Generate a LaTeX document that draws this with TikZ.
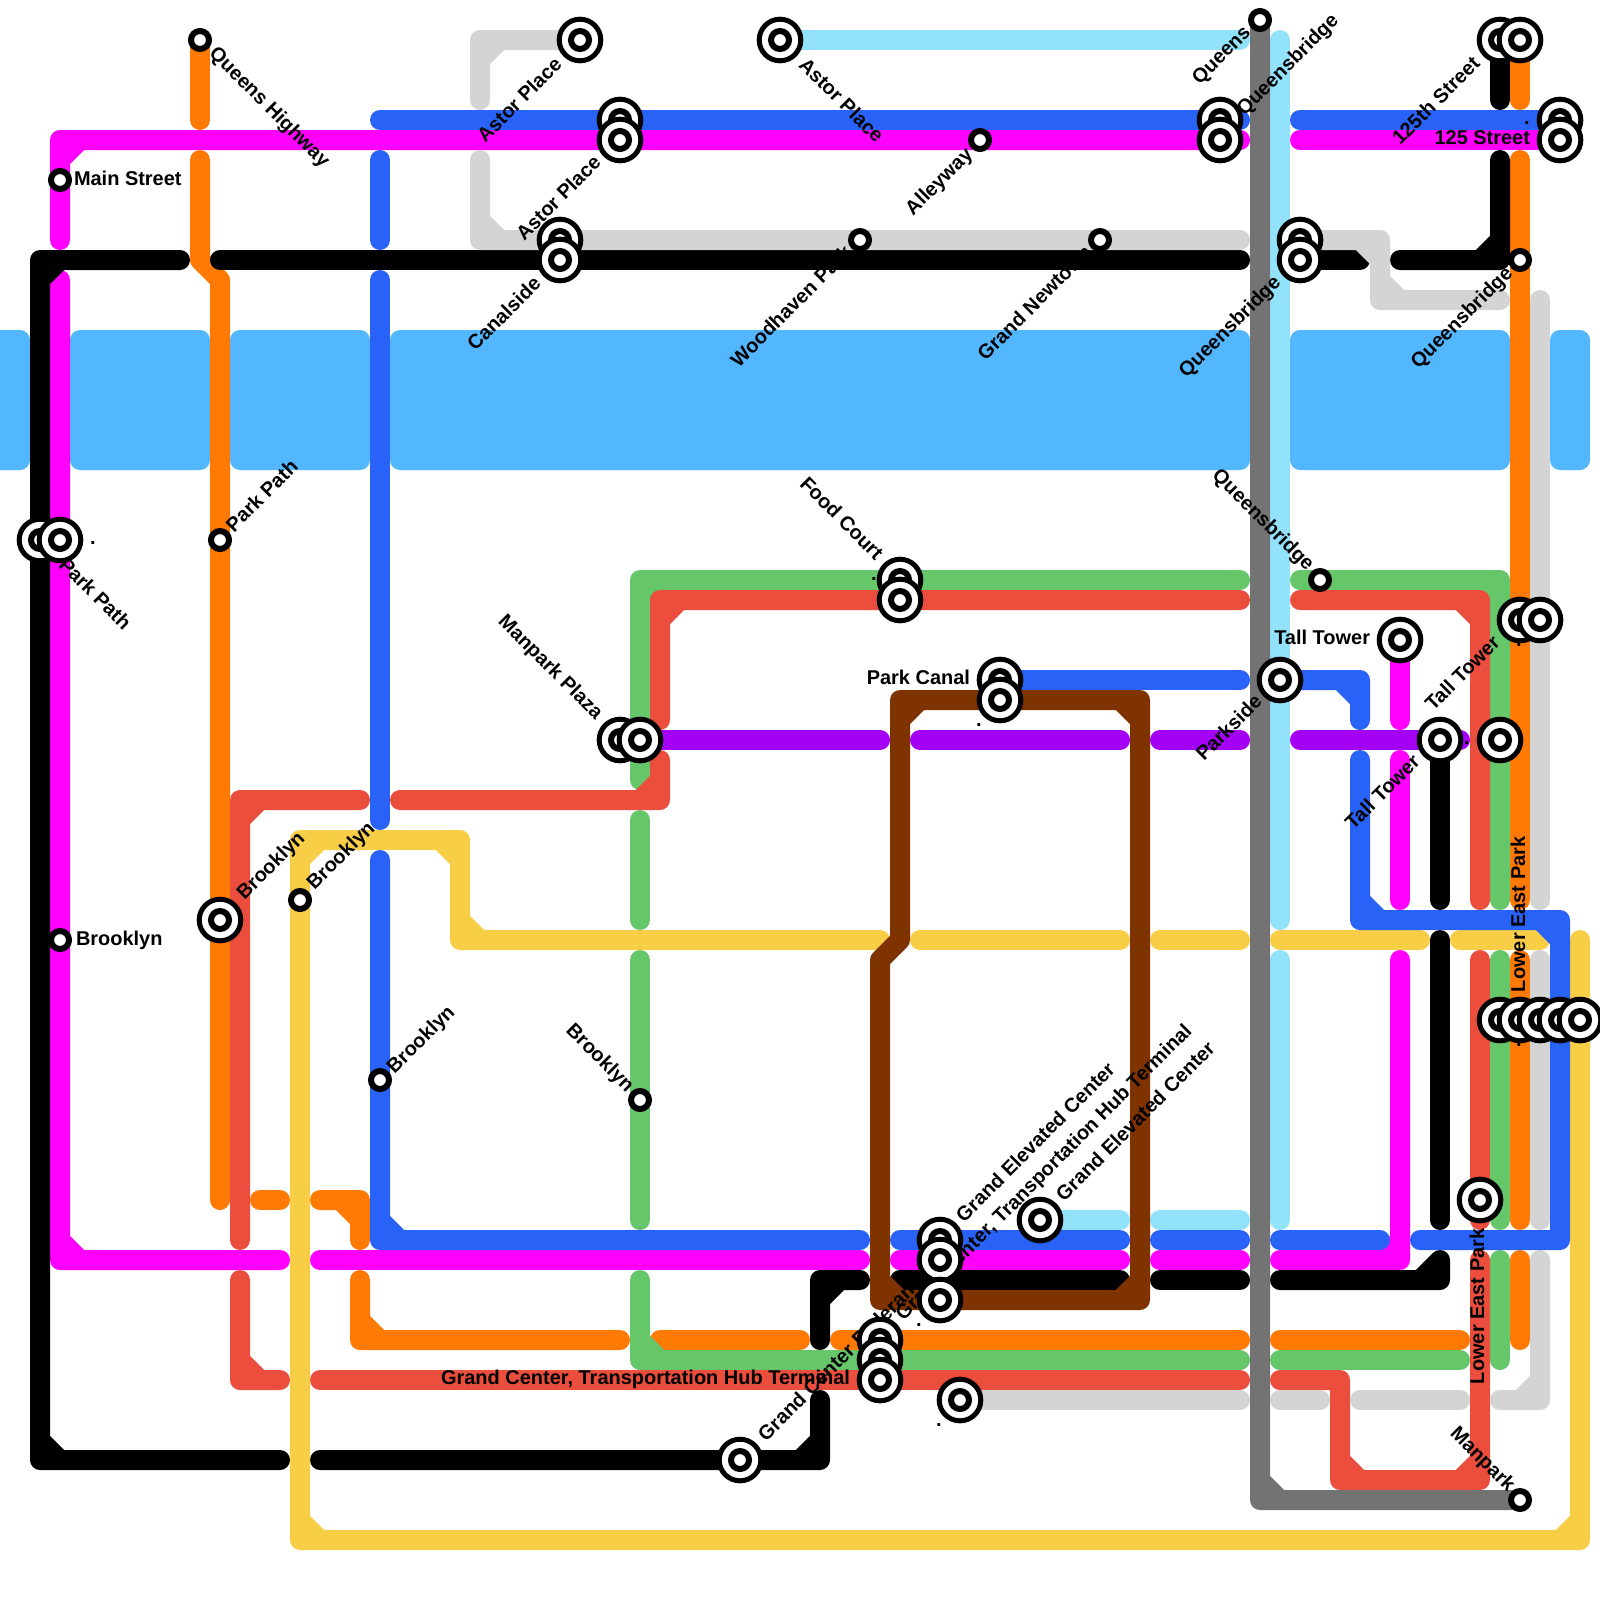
\documentclass[tikz,border=0pt]{standalone}
\usepackage{fontspec}
\setmainfont{Liberation Sans}
\usepackage{xcolor}
\definecolor{cRiver}{HTML}{52B7FF}
\definecolor{cSky}{HTML}{93E2FC}
\definecolor{cMag}{HTML}{FF00FF}
\definecolor{cOrg}{HTML}{FF7A05}
\definecolor{cGrn}{HTML}{66C66A}
\definecolor{cRed}{HTML}{EC4E3E}
\definecolor{cPur}{HTML}{A300F5}
\definecolor{cDark}{HTML}{737373}
\definecolor{cGry}{HTML}{D4D4D4}
\definecolor{cYel}{HTML}{F8CE47}
\definecolor{cBlu}{HTML}{2962F6}
\definecolor{cBrn}{HTML}{7F3300}
\usetikzlibrary{positioning}

\begin{document}
\begin{tikzpicture}[
    x=5mm, y=-5mm,
    ln/.style={line width=5mm, line cap=round, line join=round},
    sky/.style={ln, draw=cSky},
    mag/.style={ln, draw=cMag},
    org/.style={ln, draw=cOrg},
    grn/.style={ln, draw=cGrn},
    red/.style={ln, draw=cRed},
    pur/.style={ln, draw=cPur},
    blk/.style={ln, draw=black},
    drk/.style={ln, draw=cDark},
    gry/.style={ln, draw=cGry},
    yel/.style={ln, draw=cYel},
    blu/.style={ln, draw=cBlu},
    brn/.style={ln, draw=cBrn},
    river/.style={fill=cRiver, rounded corners=2.5mm},
    stop/.style={circle, draw=black, fill=white, line width=1.5mm,
                 minimum size=4.5mm, inner sep=0pt, outer sep=0pt},
    hub/.style={circle, draw=black, fill=white, line width=1.25mm,
                minimum size=10.4mm, inner sep=0pt, outer sep=0pt,
                path picture={\draw[black, line width=1.5mm]
                  (path picture bounding box.center) circle (2.25mm);}},
    lbl/.style={inner sep=0pt, outer sep=0pt, text=black,
                font=\bfseries\fontsize{14.2}{14.2}\selectfont},
    up/.style={lbl, rotate=45},
    dn/.style={lbl, rotate=-45},
    vt/.style={lbl, rotate=90, anchor=west}
]
  \clip (0,0) rectangle (80,80);

  \fill[river] (-1,16.5) rectangle (1.5,23.5);
  \fill[river] (3.5,16.5) rectangle (10.5,23.5);
  \fill[river] (11.5,16.5) rectangle (18.5,23.5);
  \fill[river] (19.5,16.5) rectangle (62.5,23.5);
  \fill[river] (64.5,16.5) rectangle (75.5,23.5);
  \fill[river] (77.5,16.5) rectangle (79.5,23.5);

  \draw[sky] (39,2) -- (62,2);
  \draw[sky] (64,2) -- (64,46);
  \draw[sky] (64,48) -- (64,61);
  \draw[sky] (52,61) -- (56,61);
  \draw[sky] (58,61) -- (62,61);

  \draw[mag] (3,12) -- (3,7) -- (62,7) (3,8) -- (4,7);
  \draw[mag] (65,7) -- (78,7);
  \draw[mag] (3,14) -- (3,63) -- (14,63) (3,62) -- (4,63);
  \draw[mag] (16,63) -- (43,63);
  \draw[mag] (45,63) -- (56,63);
  \draw[mag] (58,63) -- (62,63);
  \draw[mag] (64,63) -- (70,63) -- (70,48) (69,63) -- (70,62);
  \draw[mag] (70,38) -- (70,45);
  \draw[mag] (70,32) -- (70,36);

  \draw[org] (10,2) -- (10,6);
  \draw[org] (10,8) -- (10,13) -- (11,14) -- (11,60);
  \draw[org] (13,60) -- (14,60);
  \draw[org] (16,60) -- (18,60) -- (18,62) (17,60) -- (18,61);
  \draw[org] (18,64) -- (18,67) -- (31,67) (18,66) -- (19,67);
  \draw[org] (33,67) -- (40,67);
  \draw[org] (42,67) -- (62,67);
  \draw[org] (64,67) -- (73,67);
  \draw[org] (76,2) -- (76,5);
  \draw[org] (76,8) -- (76,45);
  \draw[org] (76,48) -- (76,61);
  \draw[org] (76,63) -- (76,67);

  \draw[grn] (32,39) -- (32,29) -- (62,29) (32,30) -- (33,29);
  \draw[grn] (32,41) -- (32,46);
  \draw[grn] (32,48) -- (32,61);
  \draw[grn] (32,64) -- (32,68) -- (62,68) (32,67) -- (33,68);
  \draw[grn] (64,68) -- (73,68);
  \draw[grn] (65,29) -- (75,29) -- (75,45) (74,29) -- (75,30);
  \draw[grn] (75,48) -- (75,61);
  \draw[grn] (75,63) -- (75,68);

  \draw[red] (18,40) -- (12,40) -- (12,62) (12,41) -- (13,40);
  \draw[red] (12,64) -- (12,69) -- (14,69) (12,68) -- (13,69);
  \draw[red] (16,69) -- (62,69);
  \draw[red] (20,40) -- (33,40) -- (33,38) (32,40) -- (33,39);
  \draw[red] (33,36) -- (33,30) -- (62,30) (33,31) -- (34,30);
  \draw[red] (65,30) -- (74,30) -- (74,45) (73,30) -- (74,31);
  \draw[red] (74,48) -- (74,61);
  \draw[red] (64,69) -- (67,69) -- (67,74) -- (74,74) -- (74,63)
    (67,73) -- (68,74) (73,74) -- (74,73);

  \draw[pur] (32,37) -- (44,37);
  \draw[pur] (46,37) -- (56,37);
  \draw[pur] (58,37) -- (62,37);
  \draw[pur] (65,37) -- (73,37);

  \draw[blk] (9,13) -- (2,13) -- (2,73) -- (14,73) (2,14) -- (3,13) (2,72) -- (3,73);
  \draw[blk] (11,13) -- (62,13);
  \draw[blk] (65,13) -- (68,13);
  \draw[blk] (70,13) -- (75,13) -- (75,8) (74,13) -- (75,12);
  \draw[blk] (75,2) -- (75,5);
  \draw[blk] (43,64) -- (41,64) -- (41,67) (41,65) -- (42,64);
  \draw[blk] (45,64) -- (56,64);
  \draw[blk] (58,64) -- (62,64);
  \draw[blk] (64,64) -- (72,64) -- (72,63) (71,64) -- (72,63);
  \draw[blk] (72,37) -- (72,45);
  \draw[blk] (72,47) -- (72,61);
  \draw[blk] (16,73) -- (41,73) -- (41,70) (40,73) -- (41,72);

  \draw[drk] (63,1) -- (63,75) -- (76,75) (63,74) -- (64,75);

  \draw[gry] (24,5) -- (24,2) -- (29,2) (24,3) -- (25,2);
  \draw[gry] (24,8) -- (24,12) -- (62,12) (24,11) -- (25,12);
  \draw[gry] (65,12) -- (69,12) -- (69,15) -- (75,15) (68,12) -- (69,13) (69,14) -- (70,15);
  \draw[gry] (77,15) -- (77,45);
  \draw[gry] (77,48) -- (77,61);
  \draw[gry] (75,70) -- (77,70) -- (77,63) (76,70) -- (77,69);
  \draw[gry] (48,70) -- (62,70);
  \draw[gry] (64,70) -- (66,70);
  \draw[gry] (68,70) -- (73,70);

  \draw[yel] (44,47) -- (23,47) -- (23,42) -- (15,42) -- (15,77) -- (79,77) -- (79,47)
    (23,46) -- (24,47) (22,42) -- (23,43) (15,43) -- (16,42) (15,76) -- (16,77) (78,77) -- (79,76);
  \draw[yel] (46,47) -- (56,47);
  \draw[yel] (58,47) -- (62,47);
  \draw[yel] (64,47) -- (71,47);
  \draw[yel] (73,47) -- (77,47);

  \draw[blu] (19,6) -- (62,6);
  \draw[blu] (65,6) -- (78,6);
  \draw[blu] (19,8) -- (19,12);
  \draw[blu] (19,14) -- (19,41);
  \draw[blu] (19,43) -- (19,62) -- (43,62) (19,61) -- (20,62);
  \draw[blu] (45,62) -- (56,62);
  \draw[blu] (58,62) -- (62,62);
  \draw[blu] (64,62) -- (69,62);
  \draw[blu] (50,34) -- (62,34);
  \draw[blu] (64,34) -- (68,34) -- (68,36) (67,34) -- (68,35);
  \draw[blu] (68,38) -- (68,46) -- (78,46) -- (78,62) -- (71,62)
    (68,45) -- (69,46) (77,46) -- (78,47);

  \draw[brn] (45,47) -- (45,35) -- (57,35) -- (57,65) -- (44,65) -- (44,48) -- cycle
    (45,36) -- (46,35) (56,35) -- (57,36) (56,65) -- (57,64) (44,64) -- (45,65);

  \node[dn, anchor=west] (queensHwyLbl) at (10.6,2.55) {Queens Highway};
  \node[lbl, anchor=west] (mainStLbl) at (3.7,8.9) {Main Street};
  \node[up, anchor=east] (astorALbl) at (27.9,3.05) {Astor Place};
  \node[dn, anchor=west] (astorBLbl) at (40.15,3.05) {Astor Place};
  \node[up, anchor=east] (astorCLbl) at (29.85,7.95) {Astor Place};
  \node[up, anchor=east] (canalLbl) at (26.85,14) {Canalside};
  \node[up, anchor=east] (alleyLbl) at (48.5,7.6) {Alleyway};
  \node[up, anchor=east] (woodLbl) at (42.4,12.45) {Woodhaven Park};
  \node[up, anchor=east] (newtownLbl) at (54.4,12.45) {Grand Newtown};
  \node[up, anchor=east] (queensLbl) at (62.4,1.5) {Queens};
  \node[up, anchor=west] (qbridgeALbl) at (62.05,5.65) {Queensbridge};
  \node[up, anchor=east] (qbridgeBLbl) at (63.9,14) {Queensbridge};
  \node[up, anchor=east] (qbridgeCLbl) at (75.5,13.55) {Queensbridge};
  \node[up, anchor=east] (streetALbl) at (73.8,3) {125th Street};
  \node[lbl, anchor=east] (streetBLbl) at (76.5,6.9) {125 Street};
  \node[dn, anchor=west] (parkPathALbl) at (3.15,28.05) {Park Path};
  \node[up, anchor=west] (parkPathBLbl) at (11.45,26.4) {Park Path};
  \node[dn, anchor=east] (foodLbl) at (44,27.8) {Food Court};
  \node[dn, anchor=east] (qbridgeDLbl) at (65.5,28.4) {Queensbridge};
  \node[dn, anchor=east] (plazaLbl) at (29.95,35.85) {Manpark Plaza};
  \node[lbl, anchor=east] (towerALbl) at (68.5,31.85) {Tall Tower};
  \node[lbl, anchor=east] (canalParkLbl) at (48.5,33.85) {Park Canal};
  \node[up, anchor=east] (parksideLbl) at (62.9,34.9) {Parkside};
  \node[up, anchor=east] (towerBLbl) at (74.8,31.95) {Tall Tower};
  \node[up, anchor=east] (towerCLbl) at (70.8,37.9) {Tall Tower};
  \node[up, anchor=west] (brookALbl) at (12.05,44.85) {Brooklyn};
  \node[up, anchor=west] (brookBLbl) at (15.55,44.35) {Brooklyn};
  \node[lbl, anchor=west] (brookCLbl) at (3.8,47) {Brooklyn};
  \node[up, anchor=west] (brookDLbl) at (19.55,53.55) {Brooklyn};
  \node[dn, anchor=east] (brookELbl) at (31.5,54.45) {Brooklyn};
  \node[vt] (lowerALbl) at (75.9,49.6) {Lower East Park};
  \node[vt] (lowerBLbl) at (73.85,69.2) {Lower East Park};
  \node[dn, anchor=east] (manparkLbl) at (75.55,74.45) {Manpark};
  \node[up, anchor=west] (elevALbl) at (47.95,60.9) {Grand Elevated Center};
  \node[up, anchor=west] (terminalALbl) at (45,65.9) {Grand Center, Transportation Hub Terminal};
  \node[up, anchor=west] (elevBLbl) at (52.95,59.85) {Grand Elevated Center};
  \node[lbl, anchor=east] (terminalBLbl) at (42.5,68.95) {Grand Center, Transportation Hub Terminal};
  \node[up, anchor=west] (centerLbl) at (38.05,71.85) {Grand Center Pederan};

  \node[lbl] (dotA) at (4.65,27.15) {.};
  \node[lbl] (dotB) at (45.95,66.25) {.};
  \node[lbl] (dotC) at (46.95,71.25) {.};
  \node[lbl] (dotD) at (48.95,36.25) {.};
  \node[lbl] (dotE) at (43.7,28.95) {.};
  \node[lbl] (dotF) at (76.35,6.15) {.};
  \node[lbl] (dotG) at (73.35,37.15) {.};
  \node[lbl] (dotH) at (75.95,32.25) {.};
  \node[lbl] (dotI) at (75.95,52.25) {.};

  \node[stop] (queensHwy) at (10,2) {};
  \node[stop] (mainSt) at (3,9) {};
  \node[stop] (queens) at (63,1) {};
  \node[stop] (alley) at (49,7) {};
  \node[stop] (wood) at (43,12) {};
  \node[stop] (newtown) at (55,12) {};
  \node[stop] (qbridgeC) at (76,13) {};
  \node[stop] (parkPathB) at (11,27) {};
  \node[stop] (brookC) at (3,47) {};
  \node[stop] (brookB) at (15,45) {};
  \node[stop] (brookD) at (19,54) {};
  \node[stop] (brookE) at (32,55) {};
  \node[stop] (qbridgeD) at (66,29) {};
  \node[stop] (manpark) at (76,75) {};

  \node[hub] (astorA) at (29,2) {};
  \node[hub] (astorB) at (39,2) {};
  \node[hub] (astorD) at (31,6) {};
  \node[hub] (astorC) at (31,7) {};
  \node[hub] (qbridgeE) at (61,6) {};
  \node[hub] (qbridgeA) at (61,7) {};
  \node[hub] (canalA) at (28,12) {};
  \node[hub] (canalB) at (28,13) {};
  \node[hub] (qbridgeF) at (65,12) {};
  \node[hub] (qbridgeB) at (65,13) {};
  \node[hub] (streetA) at (75,2) {};
  \node[hub] (streetC) at (76,2) {};
  \node[hub] (streetD) at (78,6) {};
  \node[hub] (streetB) at (78,7) {};
  \node[hub] (parkPathC) at (2,27) {};
  \node[hub] (parkPathA) at (3,27) {};
  \node[hub] (brookA) at (11,46) {};
  \node[hub] (plazaA) at (31,37) {};
  \node[hub] (plazaB) at (32,37) {};
  \node[hub] (foodA) at (45,29) {};
  \node[hub] (foodB) at (45,30) {};
  \node[hub] (canalParkA) at (50,34) {};
  \node[hub] (canalParkB) at (50,35) {};
  \node[hub] (parkside) at (64,34) {};
  \node[hub] (towerA) at (70,32) {};
  \node[hub] (towerC) at (72,37) {};
  \node[hub] (towerD) at (75,37) {};
  \node[hub] (towerB) at (76,31) {};
  \node[hub] (towerE) at (77,31) {};
  \node[hub] (lowerA) at (75,51) {};
  \node[hub] (lowerC) at (76,51) {};
  \node[hub] (lowerD) at (77,51) {};
  \node[hub] (lowerE) at (78,51) {};
  \node[hub] (lowerF) at (79,51) {};
  \node[hub] (lowerB) at (74,60) {};
  \node[hub] (elevA) at (47,62) {};
  \node[hub] (terminalA) at (47,63) {};
  \node[hub] (terminalC) at (47,65) {};
  \node[hub] (elevB) at (52,61) {};
  \node[hub] (terminalD) at (44,67) {};
  \node[hub] (terminalE) at (44,68) {};
  \node[hub] (terminalB) at (44,69) {};
  \node[hub] (grey) at (48,70) {};
  \node[hub] (center) at (37,73) {};
\end{tikzpicture}
\end{document}
